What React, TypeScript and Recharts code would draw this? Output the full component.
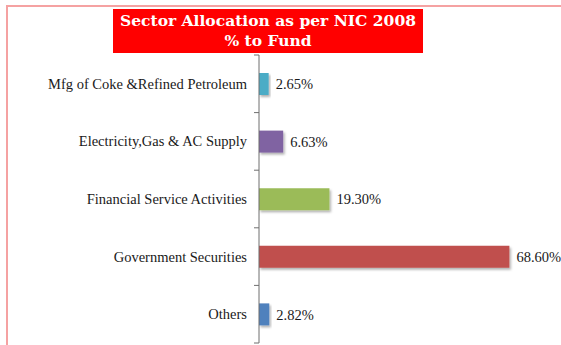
import { Bar, BarChart, Cell, LabelList, XAxis, YAxis } from 'recharts';

const sectors = [
  'Mfg of Coke &Refined Petroleum',
  'Electricity,Gas & AC Supply',
  'Financial Service Activities',
  'Government Securities',
  'Others',
];
const shares = [2.65, 6.63, 19.3, 68.6, 2.82];
const barColors = ['#4bacc6', '#8064a2', '#9bbb59', '#c0504d', '#4f81bd'];

const data = sectors.map((name, i) => ({ name, share: shares[i] }));

const serif = 'Liberation Serif, Times New Roman, serif';

// category label plus a small tick mark at the band boundary below it (and above the first one)
function SectorTick(props: any) {
  const { x, y, payload, index } = props;
  const half = payload.offset ?? 0;
  const axisX = x + 12;
  return (
    <g>
      <text x={x} y={y} dy={5} textAnchor="end" fontFamily={serif} fontSize={14.5} fill="#1a1a1a">
        {payload.value}
      </text>
      {index === 0 && <line x1={axisX - 5} x2={axisX} y1={y - half} y2={y - half} stroke="#6f6f6f" />}
      <line x1={axisX - 5} x2={axisX} y1={y + half} y2={y + half} stroke="#6f6f6f" />
    </g>
  );
}

export default function App() {
  return (
    <div style={{ position: 'fixed', left: 0, top: 0, width: 561, height: 345, background: '#fff', overflow: 'hidden' }}>
      <div
        style={{
          position: 'absolute',
          left: 6,
          top: 5,
          width: 600,
          height: 400,
          borderTop: '2px solid #f5a2a2',
          borderLeft: '2px solid #f5a2a2',
        }}
      />
      <div
        style={{
          position: 'absolute',
          left: 113,
          top: 9,
          width: 310,
          height: 44,
          background: '#ff0000',
          color: '#fff',
          fontFamily: '"DejaVu Serif", serif',
          fontWeight: 'bold',
          fontSize: 15.5,
          lineHeight: '20px',
          textAlign: 'center',
          paddingTop: 2,
          boxSizing: 'border-box',
          whiteSpace: 'nowrap',
        }}
      >
        Sector Allocation as per NIC 2008
        <br />% to Fund
      </div>
      <BarChart
        width={561}
        height={345}
        data={data}
        layout="vertical"
        margin={{ top: 55, right: 10, bottom: 2, left: 0 }}
        style={{ position: 'absolute', left: 0, top: 0 }}
      >
        <defs>
          <filter id="shadow" x="-10%" y="-20%" width="130%" height="160%">
            <feDropShadow dx="1.5" dy="2" stdDeviation="1" floodColor="#000" floodOpacity="0.3" />
          </filter>
        </defs>
        <XAxis type="number" domain={[0, 80]} hide />
        <YAxis
          type="category"
          dataKey="name"
          width={259}
          axisLine={{ stroke: '#6f6f6f' }}
          tickLine={false}
          tickSize={0}
          tickMargin={12}
          tick={<SectorTick />}
        />
        <Bar dataKey="share" barSize={22} isAnimationActive={false} filter="url(#shadow)">
          {data.map((d, i) => (
            <Cell key={d.name} fill={barColors[i]} />
          ))}
          <LabelList
            dataKey="share"
            position="right"
            offset={7}
            formatter={(v: number) => `${v.toFixed(2)}%`}
            style={{ fontFamily: serif, fontSize: 14.5, fill: '#1a1a1a' }}
          />
        </Bar>
      </BarChart>
    </div>
  );
}
